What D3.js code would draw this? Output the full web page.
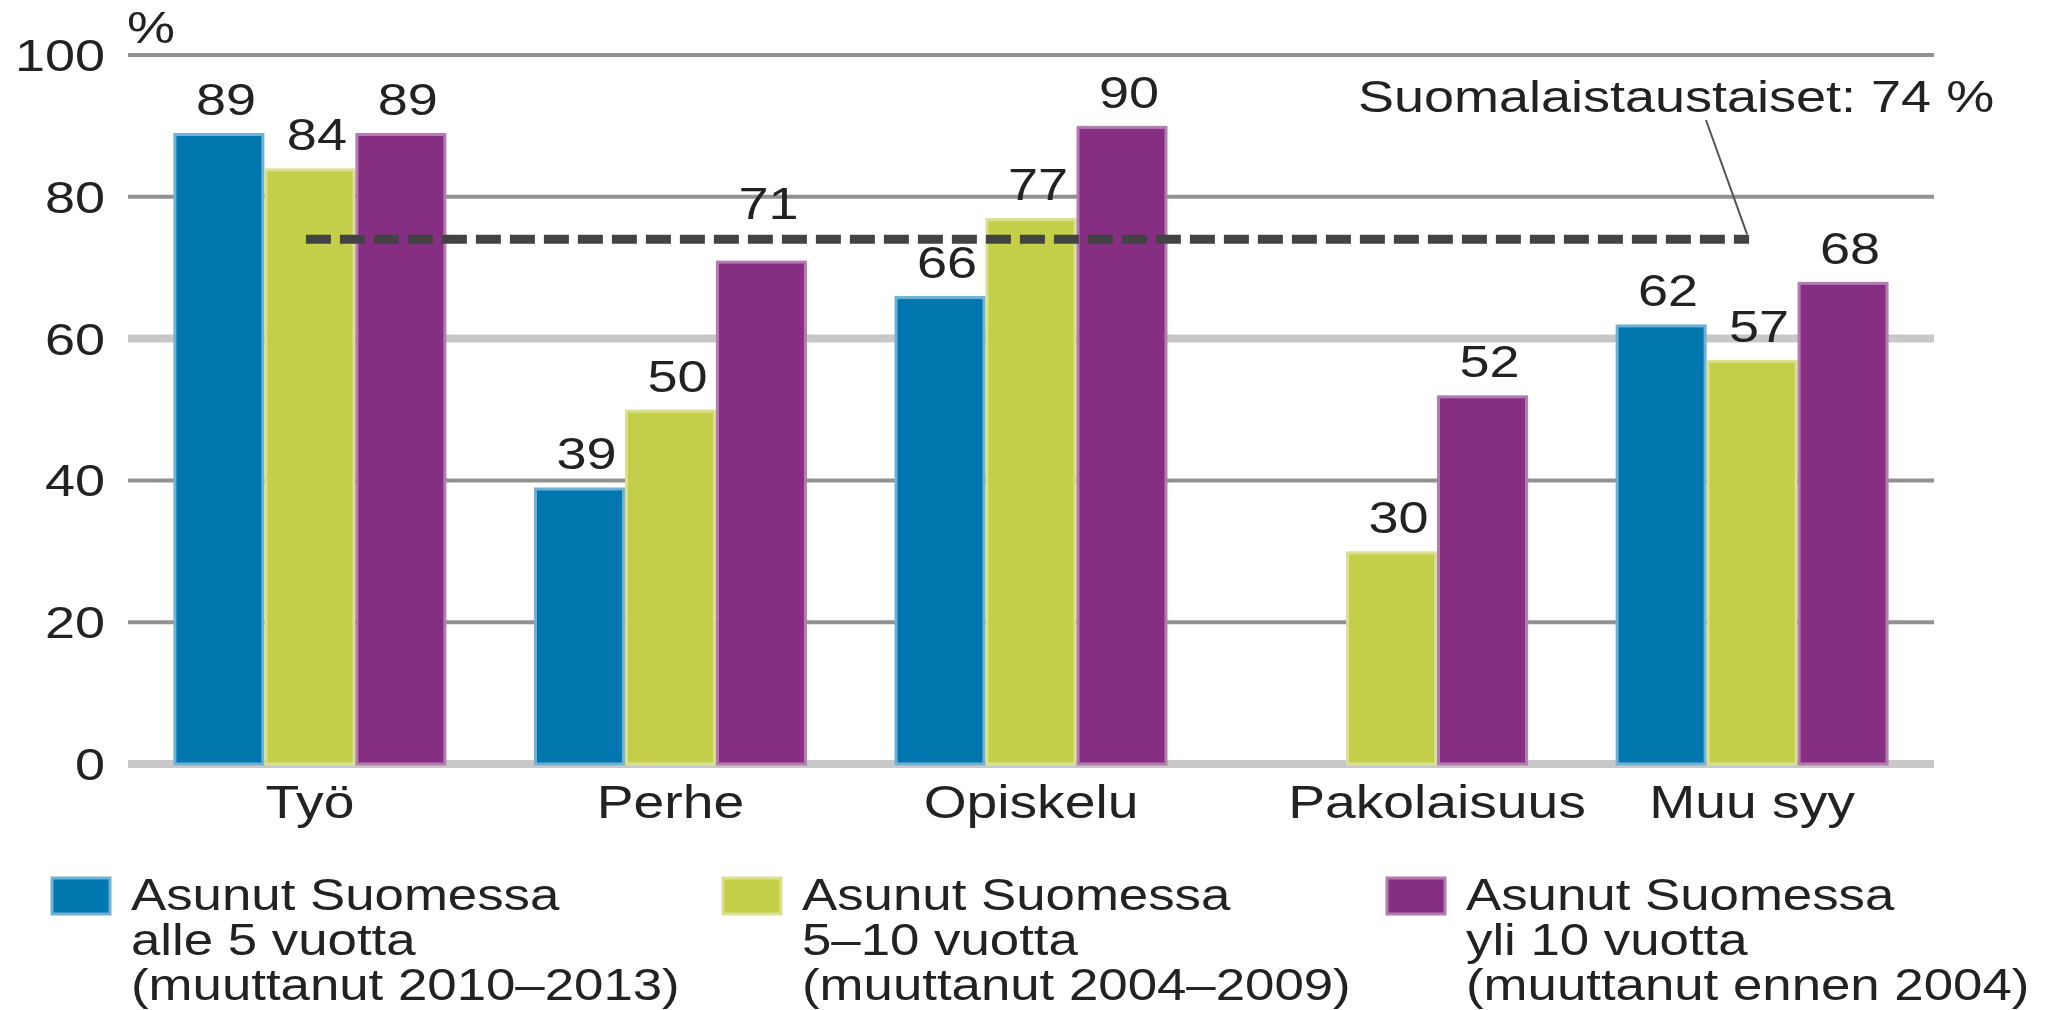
<!DOCTYPE html>
<html>
<head>
<meta charset="utf-8">
<script src="https://cdnjs.cloudflare.com/ajax/libs/d3/7.8.5/d3.min.js"></script>
<style>
  html, body { margin: 0; padding: 0; background: #fff; }
  text { font-family: "Liberation Sans", Arial, sans-serif; fill: #222; }
</style>
</head>
<body>
<div id="chart"></div>
<script>
// Data
var categories = ["Työ", "Perhe", "Opiskelu", "Pakolaisuus", "Muu syy"];
var under5 = [89, 39, 66, null, 62];
var from5to10 = [84, 50, 77, 30, 57];
var over10 = [89, 71, 90, 52, 68];
var seriesLabels = [
    ["Asunut Suomessa", "alle 5 vuotta", "(muuttanut 2010–2013)"],
    ["Asunut Suomessa", "5–10 vuotta", "(muuttanut 2004–2009)"],
    ["Asunut Suomessa", "yli 10 vuotta", "(muuttanut ennen 2004)"]
];
var finnishRef = 74;
var refLabel = "Suomalaistaustaiset: 74 %";
var yTicks = [0, 20, 40, 60, 80, 100];

var colors = ["#0077af", "#c3cf48", "#862f82"];
var edgeColors = ["#6fb1d4", "#d9e08f", "#b47bb1"];
var stretch = 1.2;

var svgWidth = 2057;
var svgHeight = 1010;

var svg = d3.select("#chart")
    .append("svg")
    .attr("width", svgWidth)
    .attr("height", svgHeight);

// scales
var x0 = d3.scaleBand()
    .domain(categories)
    .range([128, 1934])
    .paddingInner(0.243)
    .paddingOuter(0.126);

var x1 = d3.scaleBand()
    .domain([0, 1, 2])
    .range([0, x0.bandwidth()]);

var y = d3.scaleLinear()
    .domain([0, 100])
    .range([764, 55]);

// helper for the slightly wide text of the original
function label(g, x, yy, str, size, anchor) {
    return g.append("text")
        .attr("transform", `translate(${x},${yy}) scale(${stretch},1)`)
        .attr("text-anchor", anchor || "start")
        .style("font-size", size + "px")
        .text(str);
}

// gridlines
var grid = svg.append("g");
grid.selectAll("line")
    .data(yTicks)
    .enter()
    .append("line")
    .attr("x1", 128)
    .attr("x2", 1934)
    .attr("y1", d => y(d))
    .attr("y2", d => y(d))
    .attr("stroke", d => (d === 0 || d === 60) ? "#c8c8c8" : "#919191")
    .attr("stroke-width", d => (d === 0 || d === 60) ? 8 : 4);

// y tick labels
yTicks.forEach(function(t) {
    label(svg, 105, y(t) + 16, t, 45, "end");
});
label(svg, 127, 43, "%", 45, "start");

// bars
var series = [under5, from5to10, over10];
var rows = [];
categories.forEach(function(c, i) {
    series.forEach(function(s, j) {
        if (s[i] != null) rows.push({cat: c, idx: i, s: j, v: s[i]});
    });
});

var barGroup = svg.append("g");
barGroup.selectAll("rect")
    .data(rows)
    .enter()
    .append("rect")
    .attr("x", d => x0(d.cat) + x1(d.s) + 1.5)
    .attr("y", d => y(d.v) + 1.5)
    .attr("width", x1.bandwidth() - 3)
    .attr("height", d => y(0) - y(d.v) - 1.5)
    .attr("fill", d => colors[d.s])
    .attr("stroke", d => edgeColors[d.s])
    .attr("stroke-width", 3);

// reference line for Finnish background
var refX1 = x0("Työ") + x1(1) + x1.bandwidth() / 2 - 4;
var refX2 = x0("Muu syy") + x1(1) + x1.bandwidth() / 2 - 3;
svg.append("line")
    .attr("x1", refX1)
    .attr("x2", refX2)
    .attr("y1", y(finnishRef))
    .attr("y2", y(finnishRef))
    .attr("stroke", "#434346")
    .attr("stroke-width", 9)
    .attr("stroke-dasharray", "25,9");

// value labels
rows.forEach(function(d) {
    var cx = x0(d.cat) + x1(d.s) + x1.bandwidth() / 2 + 7;
    var base = y(d.v) - 18;
    // lift labels that would sit on the dashed line
    if (cx > refX1 && cx < refX2 && base > y(finnishRef) - 20 && base - 33 < y(finnishRef) + 5) {
        base = y(finnishRef) - 20;
    }
    label(svg, cx, base, d.v, 45, "middle");
});

// annotation with leader
label(svg, 1358, 112, refLabel, 45, "start");
svg.append("line")
    .attr("x1", 1706).attr("y1", 120)
    .attr("x2", refX2 - 2).attr("y2", y(finnishRef) - 5)
    .attr("stroke", "#555")
    .attr("stroke-width", 2);

// category labels, centred on the bars that exist
categories.forEach(function(c, i) {
    var present = series.map((s, j) => j).filter(j => series[j][i] != null);
    var left = x0(c) + x1(present[0]);
    var right = x0(c) + x1(present[present.length - 1]) + x1.bandwidth();
    label(svg, (left + right) / 2, 818, c, 46, "middle");
});

// legend
var legendX = [131, 802, 1466];
seriesLabels.forEach(function(lines, j) {
    svg.append("rect")
        .attr("x", legendX[j] - 79)
        .attr("y", 878)
        .attr("width", 58)
        .attr("height", 36)
        .attr("fill", colors[j])
        .attr("stroke", edgeColors[j])
        .attr("stroke-width", 3);
    lines.forEach(function(line, k) {
        label(svg, legendX[j], 910 + k * 45, line, 44, "start");
    });
});
</script>
</body>
</html>
